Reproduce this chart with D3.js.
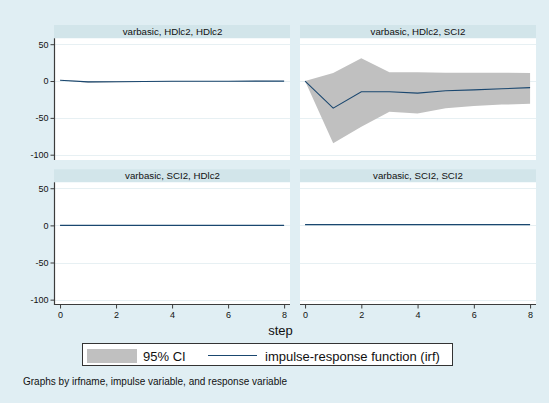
<!DOCTYPE html>
<html>
<head>
<meta charset="utf-8">
<script src="https://cdn.jsdelivr.net/npm/d3@7"></script>
<style>
  html, body { margin: 0; padding: 0; background: #e0eef3; }
  svg { display: block; font-family: "Liberation Sans", Arial, sans-serif; }
</style>
</head>
<body>
<svg id="chart" width="549" height="403"></svg>
<script>
// Impulse-response results (varbasic), one panel per impulse/response pair
const steps = [0, 1, 2, 3, 4, 5, 6, 7, 8];
const panelTitles = [
  "varbasic, HDlc2, HDlc2",
  "varbasic, HDlc2, SCI2",
  "varbasic, SCI2, HDlc2",
  "varbasic, SCI2, SCI2"
];
const irfHH = [1, -1.2, -0.9, -0.6, -0.4, -0.3, -0.2, -0.1, -0.1];
const loHH  = [1, -2.2, -1.8, -1.3, -1.0, -0.8, -0.6, -0.5, -0.4];
const hiHH  = [1, -0.2,  0.0,  0.1,  0.2,  0.2,  0.2,  0.3,  0.2];

const irfHS = [0, -36.8, -14.6, -14.6, -16.4, -13.3, -12, -10.5, -9];
const loHS  = [0, -84.5, -62, -41.8, -44, -36.8, -34, -32, -31];
const hiHS  = [0, 10.9, 30.9, 11.8, 11.8, 11.3, 11.2, 11.1, 11];

const irfSH = [0, 0, 0, 0, 0, 0, 0, 0, 0];
const loSH  = [0, -0.3, -0.3, -0.3, -0.3, -0.3, -0.3, -0.3, -0.3];
const hiSH  = [0, 0.3, 0.3, 0.3, 0.3, 0.3, 0.3, 0.3, 0.3];

const irfSS = [1, 1, 1, 1, 1, 1, 1, 1, 1];
const loSS  = [1, 0.8, 0.7, 0.7, 0.7, 0.7, 0.7, 0.7, 0.7];
const hiSS  = [1, 1.2, 1.3, 1.3, 1.3, 1.3, 1.3, 1.3, 1.3];

const yTicks = [50, 0, -50, -100];
const yTickLabels = ["50", "0", "-50", "-100"];
const xTicks = [0, 2, 4, 6, 8];
const xTickLabels = ["0", "2", "4", "6", "8"];
const xTitle = "step";
const legendLabels = ["95% CI", "impulse-response function (irf)"];
const noteText = "Graphs by irfname, impulse variable, and response variable";

const series = [
  { irf: irfHH, lo: loHH, hi: hiHH },
  { irf: irfHS, lo: loHS, hi: hiHS },
  { irf: irfSH, lo: loSH, hi: hiSH },
  { irf: irfSS, lo: loSS, hi: hiSS }
];

// Layout
const colX = [[55, 290], [300, 536]];
const rowY = [{ bar: [25, 38.3], plot: [38.3, 160] }, { bar: [169.3, 182.3], plot: [182.3, 305] }];
const colors = {
  bar: "#d2e5ea", grid: "#e7f0f3", axis: "#3c3c3c", ci: "#c0c0c0", line: "#1a476f", text: "#111"
};

const svg = d3.select("#chart");
svg.append("rect").attr("width", 549).attr("height", 403).attr("fill", "#e0eef3");

series.forEach((s, i) => {
  const col = i % 2, row = Math.floor(i / 2);
  const [x0, x1] = colX[col];
  const r = rowY[row];
  const x = d3.scaleLinear().domain([-0.18, 8.21]).range([x0, x1]);
  const y = d3.scaleLinear().domain([58, -107.2]).range(r.plot);
  const g = svg.append("g");

  // title bar
  g.append("rect").attr("x", x0 - (col === 0 ? 1 : 0)).attr("y", r.bar[0])
    .attr("width", x1 - x0 + (col === 0 ? 1 : 0)).attr("height", r.bar[1] - r.bar[0])
    .attr("fill", colors.bar);
  g.append("text").attr("x", (x0 + x1) / 2).attr("y", r.bar[1] - 3.6)
    .attr("text-anchor", "middle").attr("font-size", "9.7px").attr("fill", colors.text)
    .text(panelTitles[i]);

  // plot region
  g.append("rect").attr("x", x0).attr("y", r.plot[0])
    .attr("width", x1 - x0).attr("height", r.plot[1] - r.plot[0]).attr("fill", "#fff");

  // gridlines
  g.selectAll(".grid").data(yTicks).join("line")
    .attr("x1", x0).attr("x2", x1)
    .attr("y1", d => Math.round(y(d)) + 0.5).attr("y2", d => Math.round(y(d)) + 0.5)
    .attr("stroke", colors.grid).attr("stroke-width", 1);

  // confidence band
  const area = d3.area().x((d, k) => x(steps[k])).y0(d => y(d[0])).y1(d => y(d[1]));
  g.append("path").datum(s.lo.map((v, k) => [v, s.hi[k]]))
    .attr("d", area).attr("fill", colors.ci);

  // irf line
  const line = d3.line().x((d, k) => x(steps[k])).y(d => y(d));
  g.append("path").datum(s.irf).attr("d", line)
    .attr("fill", "none").attr("stroke", colors.line).attr("stroke-width", 1.1);

  // y axis on left column
  if (col === 0) {
    const ax = g.append("g").attr("transform", `translate(${x0 - 0.5},0)`)
      .call(d3.axisLeft(y).tickValues(yTicks).tickSize(4).tickPadding(2)
        .tickFormat(d => yTickLabels[yTicks.indexOf(d)]));
    ax.select(".domain").attr("d", `M0,${r.plot[0]}V${r.plot[1]}`).attr("stroke", colors.axis).attr("stroke-width", 1.2);
    ax.selectAll(".tick line").attr("stroke", colors.axis);
    ax.selectAll(".tick text").attr("font-size", "9px").attr("fill", colors.text)
      .attr("font-family", "'Liberation Sans', Arial, sans-serif");
  }
  // x axis on bottom row
  if (row === 1) {
    const ax = g.append("g").attr("transform", `translate(0,${r.plot[1] - 0.5})`)
      .call(d3.axisBottom(x).tickValues(xTicks).tickSize(4).tickPadding(3)
        .tickFormat(d => xTickLabels[xTicks.indexOf(d)]));
    ax.select(".domain").attr("d", `M${x0},0H${x1}`).attr("stroke", colors.axis).attr("stroke-width", 1.2);
    ax.selectAll(".tick line").attr("stroke", colors.axis);
    ax.selectAll(".tick text").attr("font-size", "9px").attr("fill", colors.text)
      .attr("font-family", "'Liberation Sans', Arial, sans-serif");
  }
});

// x axis title
svg.append("text").attr("x", 280.5).attr("y", 334.5).attr("text-anchor", "middle")
  .attr("font-size", "13px").attr("fill", colors.text).text(xTitle);

// legend
const lg = svg.append("g");
lg.append("rect").attr("x", 82.5).attr("y", 343.5).attr("width", 370).attr("height", 22)
  .attr("fill", "#fff").attr("stroke", "#333").attr("stroke-width", 1);
lg.append("rect").attr("x", 87).attr("y", 349).attr("width", 50).attr("height", 14).attr("fill", colors.ci);
lg.append("text").attr("x", 143).attr("y", 361).attr("font-size", "13px").attr("fill", colors.text).text(legendLabels[0]);
lg.append("line").attr("x1", 208).attr("x2", 257).attr("y1", 355.5).attr("y2", 355.5)
  .attr("stroke", colors.line).attr("stroke-width", 1.1);
lg.append("text").attr("x", 265).attr("y", 361).attr("font-size", "13px").attr("fill", colors.text).text(legendLabels[1]);

// note
svg.append("text").attr("x", 23).attr("y", 385).attr("font-size", "10px").attr("fill", colors.text).text(noteText);
</script>
</body>
</html>
